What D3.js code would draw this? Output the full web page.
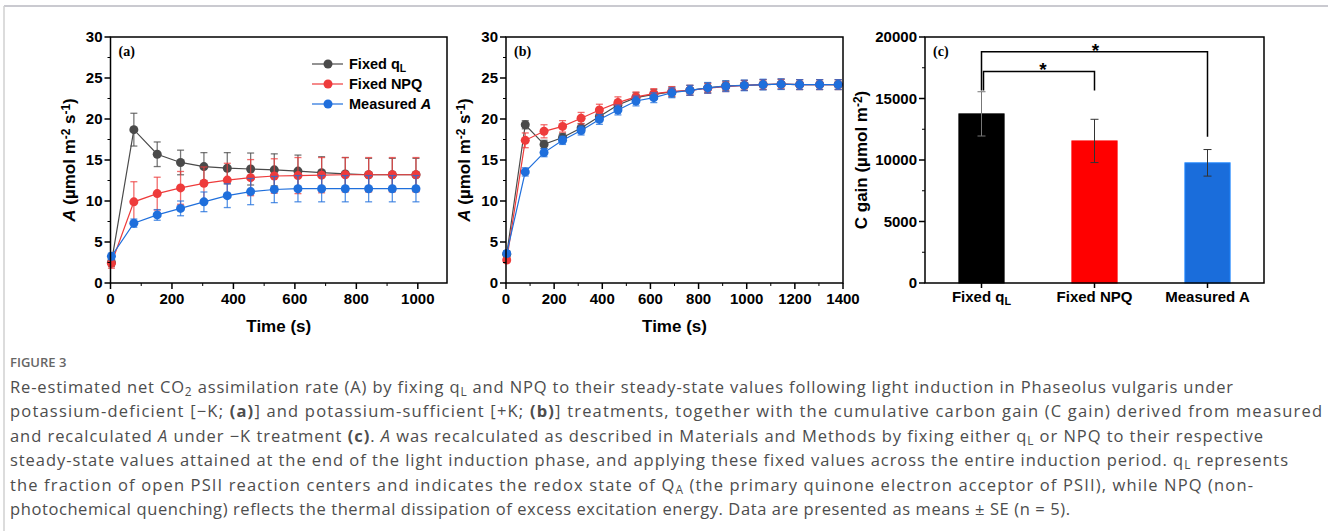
<!DOCTYPE html>
<html>
<head>
<meta charset="utf-8">
<script src="https://d3js.org/d3.v7.min.js"></script>
<style>
  body { margin: 0; background: #fff; }
  svg text { font-family: 'Liberation Sans', Arial, sans-serif; }
  .tick-label { font-size: 15px; font-weight: bold; fill: #000; }
  .axis-title { font-size: 17px; font-weight: bold; fill: #000; }
  .caption { font-family: 'Open Sans', sans-serif !important; font-size: 16.5px; fill: #4d4d4d; }
</style>
</head>
<body>
<div id="chart"></div>
<script>
// panel (a): -K treatment
var timeA = [3, 76, 152, 228, 304, 380, 456, 533, 610, 687, 764, 840, 917, 994];
var qLA = [2.5, 18.7, 15.7, 14.7, 14.2, 14.0, 13.9, 13.8, 13.65, 13.45, 13.3, 13.2, 13.2, 13.2];
var qLA_se = [0.5, 2.0, 1.5, 1.5, 1.7, 1.9, 1.95, 1.95, 1.95, 1.95, 2.0, 2.0, 2.0, 2.0];
var npqA = [2.4, 9.9, 10.9, 11.6, 12.15, 12.55, 12.85, 13.05, 13.1, 13.15, 13.2, 13.2, 13.2, 13.2];
var npqA_se = [0.6, 2.45, 2.0, 2.0, 2.0, 2.05, 2.2, 2.1, 2.2, 2.15, 2.1, 2.1, 2.1, 2.1];
var measA = [3.25, 7.3, 8.3, 9.1, 9.9, 10.65, 11.15, 11.4, 11.5, 11.5, 11.5, 11.5, 11.5, 11.5];
var measA_se = [0.4, 0.5, 0.65, 0.9, 1.2, 1.45, 1.6, 1.6, 1.6, 1.6, 1.6, 1.6, 1.6, 1.6];

// panel (b): +K treatment
var timeB = [3, 80, 158, 235, 312, 388, 465, 540, 614, 689, 764, 838, 913, 990, 1068, 1143, 1220, 1303, 1380];
var qLB = [3.5, 19.3, 16.9, 17.75, 18.9, 20.3, 21.7, 22.6, 23.0, 23.3, 23.5, 23.8, 24.05, 24.1, 24.2, 24.25, 24.2, 24.2, 24.2];
var qLB_se = [0.4, 0.5, 0.5, 0.5, 0.55, 0.6, 0.6, 0.6, 0.6, 0.6, 0.6, 0.6, 0.6, 0.6, 0.6, 0.6, 0.6, 0.6, 0.6];
var npqB = [2.8, 17.4, 18.5, 19.1, 20.1, 21.1, 22.0, 22.7, 23.1, 23.35, 23.5, 23.75, 23.95, 24.1, 24.2, 24.25, 24.2, 24.2, 24.2];
var npqB_se = [0.3, 0.9, 0.8, 0.7, 0.7, 0.7, 0.7, 0.6, 0.6, 0.6, 0.6, 0.6, 0.6, 0.6, 0.6, 0.6, 0.6, 0.6, 0.6];
var measB = [3.6, 13.55, 15.9, 17.4, 18.6, 19.95, 21.1, 22.2, 22.6, 23.2, 23.5, 23.8, 24.0, 24.1, 24.2, 24.25, 24.2, 24.2, 24.2];
var measB_se = [0.3, 0.5, 0.5, 0.5, 0.55, 0.6, 0.6, 0.6, 0.6, 0.6, 0.6, 0.65, 0.65, 0.65, 0.65, 0.65, 0.6, 0.6, 0.6];

// panel (c): cumulative carbon gain
var gainCats = ["Fixed qL", "Fixed NPQ", "Measured A"];
var gain = [13750, 11550, 9770];
var gainSE = [1800, 1760, 1080];
// significance brackets: from, to, bracket top, leg bottoms (data units)
var sigPairs = [
  { a: 0, b: 2, top: 18800, legA: 15650, legB: 11900 },
  { a: 0, b: 1, top: 17200, legA: 15650, legB: 15650 }
];

var seriesNames = ["Fixed q", "Fixed NPQ", "Measured "];
var colors = ["#4a4a4a", "#ee3b3b", "#1f6fdc"];
var barColors = ["#000000", "#ff0000", "#1a6ddb"];

var captionLines = [
  [{t: "Re-estimated net CO"}, {t: "2", sub: 1}, {t: " assimilation rate (A) by fixing q"}, {t: "L", sub: 1}, {t: " and NPQ to their steady-state values following light induction in Phaseolus vulgaris under"}],
  [{t: "potassium-deficient [\u2212K; "}, {t: "(a)", b: 1}, {t: "] and potassium-sufficient [+K; "}, {t: "(b)", b: 1}, {t: "] treatments, together with the cumulative carbon gain (C gain) derived from measured"}],
  [{t: "and recalculated "}, {t: "A", i: 1}, {t: " under \u2212K treatment "}, {t: "(c)", b: 1}, {t: ". "}, {t: "A", i: 1}, {t: " was recalculated as described in Materials and Methods by fixing either q"}, {t: "L", sub: 1}, {t: " or NPQ to their respective"}],
  [{t: "steady-state values attained at the end of the light induction phase, and applying these fixed values across the entire induction period. q"}, {t: "L", sub: 1}, {t: " represents"}],
  [{t: "the fraction of open PSII reaction centers and indicates the redox state of Q"}, {t: "A", sub: 1}, {t: " (the primary quinone electron acceptor of PSII), while NPQ (non-"}],
  [{t: "photochemical quenching) reflects the thermal dissipation of excess excitation energy. Data are presented as means \u00b1 SE (n = 5)."}]
];
// right edge of each caption line in the layout
var captionRight = [1233, 1322, 1263, 1288, 1253, 1070];

var W = 1328, H = 531;
var svg = d3.select("#chart").append("svg").attr("width", W).attr("height", H);

// page frame lines
svg.append("line").attr("x1", 4).attr("x2", W).attr("y1", 6).attr("y2", 6).attr("stroke", "#b8b8c0").attr("stroke-width", 1.5);
svg.append("line").attr("x1", 4).attr("x2", 4).attr("y1", 6).attr("y2", H).attr("stroke", "#d0d0d0").attr("stroke-width", 1.5);

function rich(sel, segs) {
  segs.forEach(function (s) {
    var ts = sel.append("tspan").text(s.t);
    if (s.sub) ts.attr("baseline-shift", "-0.25em").attr("font-size", "0.72em");
    if (s.sup) ts.attr("baseline-shift", "0.45em").attr("font-size", "0.7em");
    if (s.b) ts.attr("font-weight", "bold");
    if (s.i) ts.attr("font-style", "italic");
  });
}

function frame(g, x0, x1, y0, y1) {
  g.append("rect").attr("x", x0).attr("y", y0).attr("width", x1 - x0).attr("height", y1 - y0)
    .attr("fill", "none").attr("stroke", "#000").attr("stroke-width", 1.5);
}

function yAxis(g, y, x0, majors, minors) {
  majors.forEach(function (v) {
    g.append("line").attr("x1", x0 - 6).attr("x2", x0).attr("y1", y(v)).attr("y2", y(v)).attr("stroke", "#000").attr("stroke-width", 1.5);
    g.append("text").attr("class", "tick-label").attr("x", x0 - 8).attr("y", y(v)).attr("dy", "0.35em")
      .attr("text-anchor", "end").text(v);
  });
  minors.forEach(function (v) {
    g.append("line").attr("x1", x0 - 3).attr("x2", x0).attr("y1", y(v)).attr("y2", y(v)).attr("stroke", "#000").attr("stroke-width", 1);
  });
}

function xAxis(g, x, y0, majors, minors) {
  majors.forEach(function (v) {
    g.append("line").attr("x1", x(v)).attr("x2", x(v)).attr("y1", y0).attr("y2", y0 + 6).attr("stroke", "#000").attr("stroke-width", 1.5);
    g.append("text").attr("class", "tick-label").attr("x", x(v)).attr("y", y0 + 21).attr("text-anchor", "middle").text(v);
  });
  minors.forEach(function (v) {
    g.append("line").attr("x1", x(v)).attr("x2", x(v)).attr("y1", y0).attr("y2", y0 + 3).attr("stroke", "#000").attr("stroke-width", 1);
  });
}

function yTitle(g, cx, cy, segs) {
  var t = g.append("text").attr("class", "axis-title").attr("text-anchor", "middle")
    .attr("transform", "translate(" + cx + "," + cy + ") rotate(-90)");
  rich(t, segs);
}

var aLabel = [{t: "A", i: 1}, {t: " (\u00b5mol m"}, {t: "-2", sup: 1}, {t: " s"}, {t: "-1", sup: 1}, {t: ")"}];

function linePanel(opt) {
  var g = svg.append("g");
  var x = d3.scaleLinear().domain(opt.xDomain).range([opt.x0, opt.x1]);
  var y = d3.scaleLinear().domain([0, 30]).range([opt.y1, opt.y0]);

  var series = [
    { v: opt.qL, se: opt.qLse },
    { v: opt.npq, se: opt.npqse },
    { v: opt.meas, se: opt.measse }
  ];
  var line = d3.line().x(function (d) { return x(d[0]); }).y(function (d) { return y(d[1]); });

  series.forEach(function (s, k) {
    var pts = opt.time.map(function (t, i) { return [t, s.v[i], s.se[i]]; });
    var sg = g.append("g");
    sg.append("path").datum(pts).attr("d", line).attr("fill", "none").attr("stroke", colors[k]).attr("stroke-width", 1.2);
    var eb = sg.selectAll(".eb").data(pts).enter().append("g").attr("stroke", colors[k]).attr("stroke-opacity", 0.75).attr("stroke-width", 1.3);
    eb.append("line").attr("x1", function (d) { return x(d[0]); }).attr("x2", function (d) { return x(d[0]); })
      .attr("y1", function (d) { return y(d[1] - d[2]); }).attr("y2", function (d) { return y(d[1] + d[2]); });
    [-1, 1].forEach(function (sgn) {
      eb.append("line").attr("x1", function (d) { return x(d[0]) - 3.5; }).attr("x2", function (d) { return x(d[0]) + 3.5; })
        .attr("y1", function (d) { return y(d[1] + sgn * d[2]); }).attr("y2", function (d) { return y(d[1] + sgn * d[2]); });
    });
    sg.selectAll("circle").data(pts).enter().append("circle")
      .attr("cx", function (d) { return x(d[0]); }).attr("cy", function (d) { return y(d[1]); })
      .attr("r", 4.5).attr("fill", colors[k]);
  });

  frame(g, opt.x0, opt.x1, opt.y0, opt.y1);
  yAxis(g, y, opt.x0, d3.range(0, 31, 5), d3.range(2.5, 30, 5));
  xAxis(g, x, opt.y1, opt.xMajors, opt.xMinors);
  g.append("text").attr("class", "axis-title").attr("x", (opt.x0 + opt.x1) / 2).attr("y", opt.y1 + 49)
    .attr("text-anchor", "middle").text("Time (s)");
  yTitle(g, opt.yTitleX, (opt.y0 + opt.y1) / 2, aLabel);
  g.append("text").attr("x", opt.x0 + 8).attr("y", opt.y0 + 19)
    .style("font-family", "'Liberation Serif', 'Times New Roman', serif").style("font-weight", "bold").style("font-size", "14px")
    .text(opt.tag);
  return g;
}

var gA = linePanel({
  x0: 110.5, x1: 447, y0: 37, y1: 283, xDomain: [0, 1095],
  time: timeA, qL: qLA, qLse: qLA_se, npq: npqA, npqse: npqA_se, meas: measA, measse: measA_se,
  xMajors: d3.range(0, 1001, 200), xMinors: d3.range(100, 1001, 200), yTitleX: 75, tag: "(a)"
});

linePanel({
  x0: 506, x1: 843, y0: 37, y1: 283, xDomain: [0, 1400],
  time: timeB, qL: qLB, qLse: qLB_se, npq: npqB, npqse: npqB_se, meas: measB, measse: measB_se,
  xMajors: d3.range(0, 1401, 200), xMinors: d3.range(100, 1400, 200), yTitleX: 470, tag: "(b)"
});

// legend in panel (a)
var leg = gA.append("g");
seriesNames.forEach(function (n, k) {
  var ly = 64 + k * 20;
  leg.append("line").attr("x1", 312).attr("x2", 343).attr("y1", ly).attr("y2", ly).attr("stroke", colors[k]).attr("stroke-width", 1.2);
  leg.append("circle").attr("cx", 328).attr("cy", ly).attr("r", 4.5).attr("fill", colors[k]);
  var t = leg.append("text").attr("x", 349).attr("y", ly).attr("dy", "0.35em")
    .style("font-size", "14.5px").style("font-weight", "bold");
  if (k === 0) rich(t, [{t: n}, {t: "L", sub: 1}]);
  else if (k === 2) rich(t, [{t: n}, {t: "A", i: 1}]);
  else t.text(n);
});

// panel (c) bars
(function () {
  var g = svg.append("g");
  var x0 = 925, x1 = 1264, y0 = 37, y1 = 283;
  var x = d3.scaleBand().domain(gainCats).range([x0, x1]).paddingInner(0.6).paddingOuter(0.3);
  var y = d3.scaleLinear().domain([0, 20000]).range([y1, y0]);

  gainCats.forEach(function (c, i) {
    g.append("rect").attr("x", x(c)).attr("width", x.bandwidth()).attr("y", y(gain[i])).attr("height", y1 - y(gain[i]))
      .attr("fill", barColors[i]).attr("stroke", i === 0 ? "#000" : d3.color(barColors[i]).brighter(0.6)).attr("stroke-width", 1);
    var cx = x(c) + x.bandwidth() / 2;
    var eg = g.append("g").attr("stroke", i === 0 ? "#777" : "#333").attr("stroke-width", 1);
    eg.append("line").attr("x1", cx).attr("x2", cx).attr("y1", y(gain[i] - gainSE[i])).attr("y2", y(gain[i] + gainSE[i]));
    [-1, 1].forEach(function (s) {
      eg.append("line").attr("x1", cx - 4).attr("x2", cx + 4).attr("y1", y(gain[i] + s * gainSE[i])).attr("y2", y(gain[i] + s * gainSE[i]));
    });
    g.append("line").attr("x1", cx).attr("x2", cx).attr("y1", y1).attr("y2", y1 + 5).attr("stroke", "#000").attr("stroke-width", 1.5);
    var t = g.append("text").attr("class", "tick-label").attr("x", cx).attr("y", y1 + 19).attr("text-anchor", "middle");
    if (i === 0) rich(t, [{t: "Fixed q"}, {t: "L", sub: 1}]);
    else t.text(c);
  });

  sigPairs.forEach(function (p, j) {
    var xa = x(gainCats[p.a]) + x.bandwidth() / 2 + (p.b === 1 ? 2 : 0);
    var xb = x(gainCats[p.b]) + x.bandwidth() / 2;
    g.append("path").attr("d", "M" + xa + "," + y(p.legA) + "V" + y(p.top) + "H" + xb + "V" + y(p.legB))
      .attr("fill", "none").attr("stroke", "#000").attr("stroke-width", 1.5);
    g.append("text").attr("x", (xa + xb) / 2 + (j === 0 ? 1 : 4)).attr("y", y(p.top) + 5).attr("text-anchor", "middle")
      .style("font-size", "19px").style("font-weight", "bold").text("*");
  });

  frame(g, x0, x1, y0, y1);
  yAxis(g, y, x0, d3.range(0, 20001, 5000), d3.range(2500, 20000, 5000));
  yTitle(g, 867, (y0 + y1) / 2, [{t: "C gain (\u00b5mol m"}, {t: "-2", sup: 1}, {t: ")"}]);
  g.append("text").attr("x", x0 + 8).attr("y", y0 + 19)
    .style("font-family", "'Liberation Serif', 'Times New Roman', serif").style("font-weight", "bold").style("font-size", "14px")
    .text("(c)");
})();

// caption
svg.append("text").attr("x", 10).attr("y", 367).attr("class", "caption")
  .style("font-size", "13px").style("font-weight", "600").style("fill", "#666").text("FIGURE 3");
captionLines.forEach(function (segs, i) {
  var t = svg.append("text").attr("class", "caption").attr("x", 10).attr("y", 393 + i * 24.4);
  rich(t, segs);
  var len = t.node().getComputedTextLength();
  var n = d3.sum(segs, function (s) { return s.t.length; });
  var ls = (captionRight[i] - 10 - len) / (n - 1);
  t.style("letter-spacing", ls + "px");
});
</script>
</body>
</html>
